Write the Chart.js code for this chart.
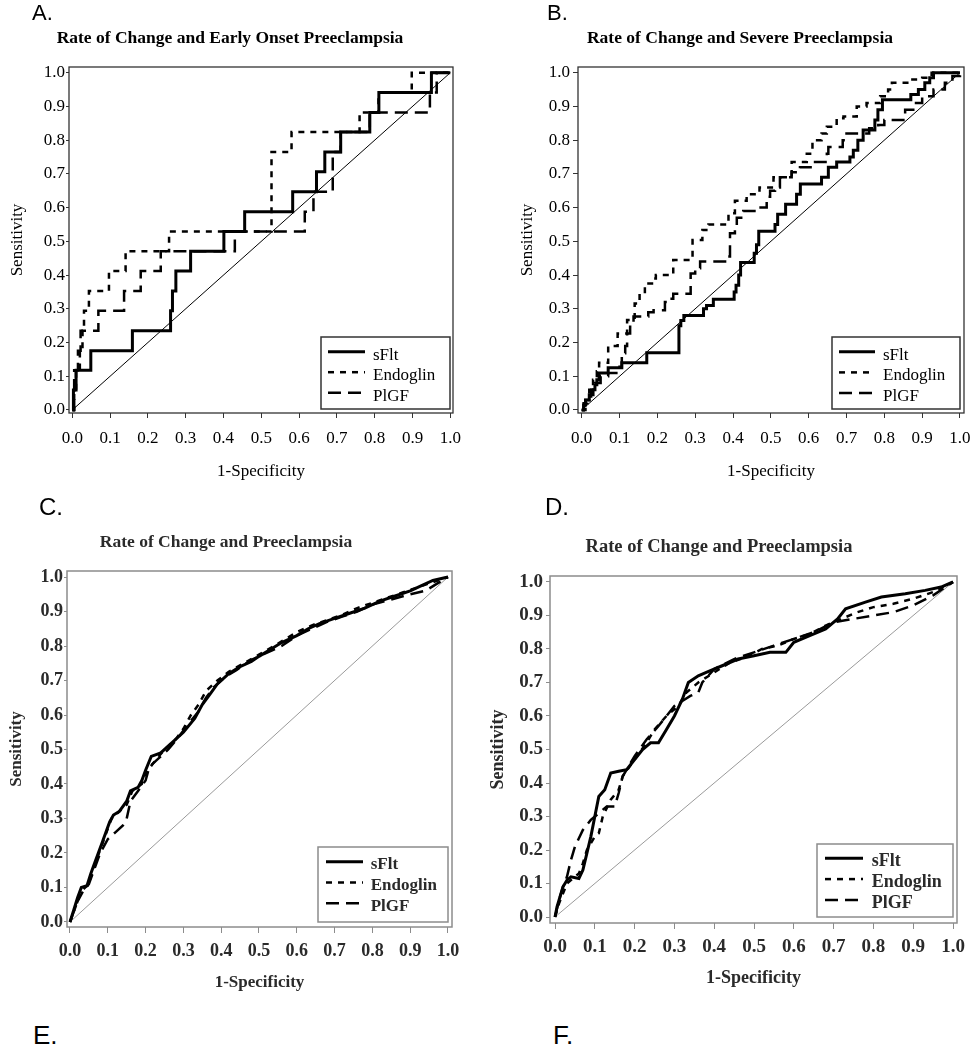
<!DOCTYPE html>
<html>
<head>
<meta charset="utf-8">
<script src="https://cdn.jsdelivr.net/npm/chart.js@4.4.1/dist/chart.umd.min.js"></script>
<style>
  body { margin: 0; background: #fff; }
  #page { position: relative; width: 973px; height: 1050px; overflow: hidden; background: #fff; }
  canvas { position: absolute; }
  .tag { position: absolute; font-family: 'Liberation Sans', Arial, sans-serif; color: #000; line-height: 1; }
</style>
</head>
<body>
<div id="page">
  <canvas id="chartA" width="480" height="500" style="left:0;top:0"></canvas>
  <canvas id="chartB" width="493" height="500" style="left:480px;top:0"></canvas>
  <canvas id="chartC" width="480" height="500" style="left:0;top:500px"></canvas>
  <canvas id="chartD" width="493" height="500" style="left:480px;top:500px"></canvas>
  <div class="tag" style="left:32px;top:2px;font-size:22px">A.</div>
  <div class="tag" style="left:547px;top:2px;font-size:22px">B.</div>
  <div class="tag" style="left:39px;top:495px;font-size:24px">C.</div>
  <div class="tag" style="left:545px;top:495px;font-size:24px">D.</div>
  <div class="tag" style="left:33px;top:1022px;font-size:26px">E.</div>
  <div class="tag" style="left:553px;top:1022px;font-size:26px">F.</div>
</div>
<script>
const seriesNames = ['sFlt', 'Endoglin', 'PlGF'];
const tickValues = [0, 0.1, 0.2, 0.3, 0.4, 0.5, 0.6, 0.7, 0.8, 0.9, 1.0];
const diagonal = [[0, 0], [1, 1]];
const panelTitles = [
  'Rate of Change and Early Onset Preeclampsia',
  'Rate of Change and Severe Preeclampsia',
  'Rate of Change and Preeclampsia',
  'Rate of Change and Preeclampsia'
];
const xTitle = '1-Specificity';
const yTitle = 'Sensitivity';

// ROC steps: [1-specificity where the curve rises, new sensitivity]
const aSflt = [[0,0],[0.003,0.059],[0.01,0.118],[0.049,0.176],[0.159,0.235],[0.26,0.294],[0.265,0.353],[0.274,0.412],[0.313,0.471],[0.401,0.529],[0.456,0.588],[0.583,0.647],[0.646,0.706],[0.668,0.765],[0.71,0.824],[0.787,0.882],[0.811,0.941],[0.95,1],[1,1]];
const aEndoglin = [[0,0],[0.005,0.059],[0.01,0.118],[0.02,0.176],[0.027,0.235],[0.031,0.294],[0.044,0.353],[0.097,0.412],[0.141,0.471],[0.256,0.529],[0.527,0.765],[0.58,0.824],[0.76,0.882],[0.81,0.941],[0.898,1],[1,1]];
const aPlgf = [[0,0],[0.005,0.118],[0.015,0.176],[0.022,0.235],[0.069,0.294],[0.137,0.353],[0.181,0.412],[0.234,0.471],[0.43,0.529],[0.615,0.588],[0.638,0.647],[0.689,0.765],[0.71,0.824],[0.787,0.882],[0.946,0.941],[0.964,1],[1,1]];

const bSflt = [[0,0],[0.005,0.015],[0.01,0.03],[0.02,0.045],[0.03,0.06],[0.035,0.075],[0.04,0.09],[0.046,0.11],[0.07,0.125],[0.106,0.14],[0.172,0.17],[0.257,0.25],[0.262,0.265],[0.27,0.28],[0.322,0.3],[0.33,0.31],[0.348,0.328],[0.403,0.35],[0.408,0.37],[0.415,0.4],[0.42,0.437],[0.456,0.465],[0.462,0.49],[0.468,0.53],[0.511,0.55],[0.518,0.58],[0.539,0.61],[0.568,0.64],[0.578,0.67],[0.634,0.69],[0.652,0.72],[0.674,0.735],[0.709,0.75],[0.718,0.77],[0.73,0.8],[0.744,0.83],[0.775,0.86],[0.783,0.89],[0.795,0.92],[0.87,0.935],[0.89,0.95],[0.907,0.97],[0.92,0.985],[0.93,1],[1,1]];
const bEndoglin = [[0,0],[0.01,0.03],[0.02,0.06],[0.03,0.09],[0.04,0.115],[0.046,0.14],[0.07,0.19],[0.095,0.227],[0.12,0.267],[0.14,0.316],[0.153,0.346],[0.167,0.375],[0.19,0.39],[0.196,0.4],[0.242,0.445],[0.293,0.504],[0.319,0.534],[0.335,0.55],[0.388,0.583],[0.405,0.62],[0.436,0.64],[0.47,0.66],[0.507,0.69],[0.555,0.735],[0.595,0.76],[0.61,0.8],[0.634,0.82],[0.648,0.84],[0.674,0.865],[0.692,0.87],[0.727,0.9],[0.753,0.91],[0.789,0.93],[0.81,0.95],[0.82,0.97],[0.868,0.98],[0.9,0.985],[0.925,1],[1,1]];
const bPlgf = [[0,0],[0.005,0.02],[0.015,0.04],[0.025,0.06],[0.035,0.08],[0.05,0.1],[0.07,0.11],[0.1,0.128],[0.106,0.168],[0.115,0.19],[0.12,0.227],[0.128,0.247],[0.137,0.277],[0.176,0.29],[0.19,0.296],[0.22,0.32],[0.229,0.33],[0.242,0.345],[0.288,0.405],[0.3,0.42],[0.313,0.44],[0.379,0.455],[0.392,0.524],[0.405,0.545],[0.41,0.57],[0.427,0.59],[0.463,0.6],[0.489,0.632],[0.498,0.65],[0.511,0.66],[0.524,0.69],[0.555,0.705],[0.577,0.72],[0.612,0.735],[0.648,0.76],[0.652,0.78],[0.69,0.8],[0.7,0.82],[0.76,0.835],[0.784,0.845],[0.8,0.86],[0.855,0.89],[0.88,0.91],[0.9,0.93],[0.93,0.95],[0.96,0.97],[0.98,0.99],[1,1]];

// C and D: dense curves, read as vertices
const cSflt = [[0,0],[0.01,0.035],[0.02,0.07],[0.03,0.1],[0.045,0.105],[0.055,0.14],[0.065,0.17],[0.075,0.2],[0.085,0.23],[0.095,0.26],[0.105,0.29],[0.115,0.31],[0.13,0.32],[0.15,0.35],[0.16,0.38],[0.18,0.39],[0.19,0.41],[0.2,0.44],[0.215,0.48],[0.24,0.49],[0.27,0.52],[0.3,0.55],[0.33,0.59],[0.35,0.63],[0.37,0.66],[0.39,0.69],[0.42,0.72],[0.45,0.74],[0.48,0.755],[0.5,0.77],[0.53,0.79],[0.56,0.81],[0.6,0.83],[0.63,0.85],[0.66,0.865],[0.7,0.88],[0.74,0.895],[0.78,0.91],[0.82,0.93],[0.86,0.945],[0.9,0.96],[0.93,0.975],[0.96,0.99],[1,1]];
const cEndoglin = [[0,0],[0.01,0.03],[0.02,0.06],[0.03,0.09],[0.05,0.11],[0.06,0.15],[0.07,0.18],[0.08,0.21],[0.09,0.24],[0.1,0.27],[0.11,0.3],[0.13,0.32],[0.15,0.34],[0.165,0.38],[0.19,0.4],[0.2,0.43],[0.22,0.46],[0.25,0.5],[0.28,0.53],[0.3,0.56],[0.32,0.6],[0.34,0.63],[0.36,0.67],[0.39,0.7],[0.42,0.725],[0.46,0.75],[0.5,0.775],[0.54,0.8],[0.57,0.82],[0.6,0.84],[0.64,0.86],[0.68,0.875],[0.72,0.89],[0.76,0.91],[0.8,0.925],[0.84,0.94],[0.88,0.955],[0.92,0.97],[0.96,0.985],[1,1]];
const cPlgf = [[0,0],[0.01,0.03],[0.02,0.06],[0.035,0.09],[0.05,0.11],[0.06,0.14],[0.07,0.17],[0.08,0.2],[0.09,0.22],[0.1,0.24],[0.12,0.26],[0.14,0.28],[0.15,0.3],[0.16,0.35],[0.18,0.38],[0.2,0.41],[0.21,0.45],[0.23,0.47],[0.26,0.5],[0.29,0.54],[0.31,0.57],[0.34,0.61],[0.36,0.65],[0.38,0.68],[0.41,0.71],[0.44,0.73],[0.48,0.76],[0.52,0.78],[0.56,0.8],[0.6,0.83],[0.64,0.85],[0.68,0.87],[0.72,0.885],[0.76,0.9],[0.8,0.92],[0.85,0.935],[0.9,0.95],[0.94,0.96],[0.97,0.98],[1,1]];

const dSflt = [[0,0],[0.005,0.03],[0.01,0.05],[0.02,0.09],[0.03,0.11],[0.04,0.12],[0.06,0.115],[0.07,0.14],[0.08,0.19],[0.09,0.24],[0.1,0.3],[0.11,0.36],[0.125,0.38],[0.14,0.43],[0.16,0.435],[0.18,0.44],[0.2,0.47],[0.22,0.5],[0.24,0.52],[0.26,0.52],[0.28,0.56],[0.3,0.6],[0.32,0.65],[0.335,0.7],[0.36,0.72],[0.38,0.73],[0.42,0.75],[0.46,0.77],[0.5,0.78],[0.54,0.79],[0.58,0.79],[0.6,0.82],[0.64,0.84],[0.68,0.86],[0.71,0.89],[0.73,0.92],[0.78,0.94],[0.82,0.955],[0.88,0.965],[0.93,0.975],[0.97,0.985],[1,1]];
const dEndoglin = [[0,0],[0.01,0.04],[0.02,0.07],[0.03,0.1],[0.05,0.12],[0.06,0.13],[0.07,0.16],[0.08,0.2],[0.1,0.24],[0.11,0.25],[0.12,0.3],[0.14,0.35],[0.16,0.38],[0.17,0.42],[0.2,0.47],[0.23,0.52],[0.25,0.56],[0.28,0.6],[0.31,0.63],[0.33,0.67],[0.36,0.7],[0.4,0.73],[0.44,0.76],[0.48,0.775],[0.52,0.8],[0.56,0.81],[0.6,0.83],[0.64,0.845],[0.68,0.87],[0.72,0.89],[0.76,0.91],[0.8,0.925],[0.85,0.935],[0.9,0.95],[0.95,0.97],[1,1]];
const dPlgf = [[0,0],[0.01,0.05],[0.02,0.09],[0.03,0.12],[0.04,0.17],[0.05,0.21],[0.07,0.26],[0.09,0.29],[0.11,0.31],[0.13,0.33],[0.15,0.33],[0.16,0.37],[0.17,0.42],[0.2,0.48],[0.23,0.53],[0.26,0.57],[0.3,0.63],[0.34,0.66],[0.36,0.67],[0.37,0.7],[0.4,0.74],[0.45,0.77],[0.5,0.79],[0.55,0.81],[0.6,0.83],[0.65,0.85],[0.7,0.88],[0.75,0.89],[0.8,0.9],[0.85,0.91],[0.9,0.93],[0.95,0.96],[1,1]];

const serif = "'Liberation Serif', 'Times New Roman', serif";
const lineStyles = [
  {width: 3, dash: []},
  {width: 2.5, dash: [6, 6]},
  {width: 2.5, dash: [13, 7]}
];

// box round the plot area
const frame = {
  id: 'frame',
  beforeDatasetsDraw(chart, args, o) {
    const a = chart.chartArea, ctx = chart.ctx;
    ctx.save();
    ctx.strokeStyle = o.color;
    ctx.lineWidth = o.width;
    ctx.strokeRect(a.left, a.top, a.right - a.left, a.bottom - a.top);
    ctx.restore();
  }
};

// framed legend inside the plot, bottom right
const boxLegend = {
  id: 'boxLegend',
  afterDatasetsDraw(chart, args, o) {
    const a = chart.chartArea, ctx = chart.ctx;
    const x0 = a.right - o.right - o.w, y0 = a.bottom - o.bottom - o.h;
    ctx.save();
    ctx.fillStyle = '#fff';
    ctx.fillRect(x0, y0, o.w, o.h);
    ctx.strokeStyle = o.color;
    ctx.lineWidth = 1.5;
    ctx.strokeRect(x0, y0, o.w, o.h);
    ctx.font = o.font;
    ctx.textBaseline = 'middle';
    chart.data.datasets.filter(d => d.inLegend).forEach((d, i) => {
      const y = y0 + o.first + i * o.gap;
      ctx.strokeStyle = d.borderColor;
      ctx.lineWidth = d.borderWidth;
      ctx.setLineDash(d.borderDash);
      ctx.beginPath();
      ctx.moveTo(x0 + o.lineX, y);
      ctx.lineTo(x0 + o.lineX + o.lineLen, y);
      ctx.stroke();
      ctx.setLineDash([]);
      ctx.fillStyle = o.ink;
      ctx.fillText(d.label, x0 + o.textX, y + o.dy);
    });
    ctx.restore();
  }
};

function build(id, o) {
  const sets = o.series.map((pts, i) => ({
    label: seriesNames[i],
    data: pts.map(p => ({x: p[0], y: p[1]})),
    borderColor: '#000',
    borderWidth: lineStyles[i].width,
    borderDash: lineStyles[i].dash,
    stepped: o.stepped ? 'before' : false,
    pointRadius: 0,
    fill: false,
    tension: 0,
    inLegend: true
  }));
  sets.push({
    label: 'reference',
    data: diagonal.map(p => ({x: p[0], y: p[1]})),
    borderColor: o.diag,
    borderWidth: 1,
    pointRadius: 0,
    fill: false,
    inLegend: false
  });

  const tickFont = {family: serif, size: o.tickSize, weight: o.weight};
  const axisFont = {family: serif, size: o.axisSize, weight: o.weight};
  const setTicks = s => { s.ticks = tickValues.map(v => ({value: v})); };

  new Chart(document.getElementById(id), {
    type: 'line',
    data: {datasets: sets},
    options: {
      responsive: false,
      animation: false,
      layout: {padding: {left: o.padL, right: o.padR, top: 0, bottom: 0}},
      plugins: {
        legend: {display: false},
        tooltip: {enabled: false},
        title: {
          display: true,
          text: o.title,
          color: o.ink,
          font: {family: serif, size: o.titleSize, weight: 'bold', lineHeight: 1.2},
          padding: {top: o.titleTop, bottom: o.titleBottom}
        },
        frame: {color: o.frame, width: o.frameW},
        boxLegend: Object.assign({font: `${o.weight === 'bold' ? 'bold ' : ''}${o.legendSize}px ${serif}`, ink: o.ink, color: o.frame}, o.legend)
      },
      scales: {
        x: {
          type: 'linear',
          min: o.xmin,
          max: o.xmax,
          afterBuildTicks: setTicks,
          afterFit: s => { s.height = o.xH; s.paddingLeft = 0; s.paddingRight = 0; },
          ticks: {callback: v => v.toFixed(1), font: tickFont, color: o.ink, padding: o.xTick[1], maxRotation: 0, autoSkip: false},
          grid: {drawOnChartArea: false, drawTicks: true, tickLength: o.xTick[0], tickColor: o.frame, tickWidth: 1},
          border: {display: false},
          title: {display: true, text: xTitle, color: o.ink, font: axisFont, padding: {top: 0, bottom: o.xTitlePad}}
        },
        y: {
          type: 'linear',
          min: o.ymin,
          max: o.ymax,
          afterBuildTicks: setTicks,
          afterFit: s => { s.width = o.yW; s.paddingTop = 0; s.paddingBottom = 0; },
          ticks: {callback: v => v.toFixed(1), font: tickFont, color: o.ink, padding: o.yTick[1], autoSkip: false},
          grid: {drawOnChartArea: false, drawTicks: true, tickLength: o.yTick[0], tickColor: o.frame, tickWidth: 1},
          border: {display: false},
          title: {display: true, text: yTitle, color: o.ink, font: axisFont, padding: {top: o.yTitlePad, bottom: 0}}
        }
      }
    },
    plugins: [frame, boxLegend]
  });
}

build('chartA', {
  title: panelTitles[0], series: [aSflt, aEndoglin, aPlgf], stepped: true,
  ink: '#000', frame: '#333', frameW: 1.3, diag: '#000', weight: 'normal',
  tickSize: 17, axisSize: 17, titleSize: 17.5, legendSize: 17,
  padL: 7, padR: 27, yW: 62, xH: 87,
  xmin: -0.0087, xmax: 1.0071, ymin: -0.0089, ymax: 1.0169,
  titleTop: 27.5, titleBottom: 18.5, yTitlePad: 0, xTitlePad: 17.8,
  xTick: [5, 10], yTick: [3, 1],
  legend: {w: 129, h: 72, right: 3, bottom: 4, first: 14.7, gap: 20.5, lineX: 7, lineLen: 37, textX: 52, dy: 3.5}
});

build('chartB', {
  title: panelTitles[1], series: [bSflt, bEndoglin, bPlgf], stepped: true,
  ink: '#000', frame: '#333', frameW: 1.3, diag: '#000', weight: 'normal',
  tickSize: 17, axisSize: 17, titleSize: 17.5, legendSize: 17,
  padL: 36, padR: 9, yW: 62, xH: 87,
  xmin: -0.0098, xmax: 1.0106, ymin: -0.0089, ymax: 1.0169,
  titleTop: 27.5, titleBottom: 18.5, yTitlePad: 1.8, xTitlePad: 17.8,
  xTick: [5, 10], yTick: [5, 3],
  legend: {w: 128, h: 72, right: 4, bottom: 4, first: 14.7, gap: 20.7, lineX: 7, lineLen: 36, textX: 51, dy: 3.5}
});

build('chartC', {
  title: panelTitles[2], series: [cSflt, cEndoglin, cPlgf], stepped: false,
  ink: '#2a2a2a', frame: '#8c8c8c', frameW: 1.5, diag: '#9a9a9a', weight: 'bold',
  tickSize: 18, axisSize: 17, titleSize: 17.5, legendSize: 17,
  padL: 0, padR: 28, yW: 67, xH: 73,
  xmin: -0.0079, xmax: 1.0106, ymin: -0.0145, ymax: 1.0174,
  titleTop: 31.5, titleBottom: 18.5, yTitlePad: 6.8, xTitlePad: 6.8,
  xTick: [6, 8], yTick: [3, 1],
  legend: {w: 130, h: 75, right: 4, bottom: 5, first: 14.7, gap: 20.8, lineX: 8, lineLen: 37, textX: 52.7, dy: 3.3}
});

build('chartD', {
  title: panelTitles[3], series: [dSflt, dEndoglin, dPlgf], stepped: false,
  ink: '#2a2a2a', frame: '#8c8c8c', frameW: 1.5, diag: '#9a9a9a', weight: 'bold',
  tickSize: 19, axisSize: 18, titleSize: 18.5, legendSize: 18,
  padL: 1, padR: 16, yW: 69, xH: 77,
  xmin: -0.0126, xmax: 1.01, ymin: -0.0179, ymax: 1.0179,
  titleTop: 35.9, titleBottom: 17.9, yTitlePad: 6.2, xTitlePad: 11.2,
  xTick: [6, 6.3], yTick: [4, 3],
  legend: {w: 136, h: 73, right: 4, bottom: 6, first: 14.3, gap: 20.8, lineX: 8, lineLen: 38, textX: 54.7, dy: 3.3}
});
</script>
</body>
</html>
